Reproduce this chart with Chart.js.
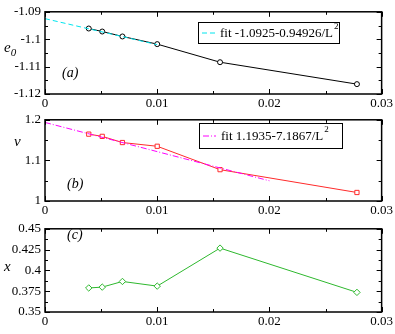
<!DOCTYPE html>
<html>
<head>
<meta charset="utf-8">
<script src="https://cdn.jsdelivr.net/npm/chart.js@4/dist/chart.umd.min.js"></script>
<style>
html, body { margin: 0; padding: 0; background: #fff; }
#wrap { position: relative; width: 395px; height: 334px; overflow: hidden; }
canvas { position: absolute; left: 0; }
</style>
</head>
<body>
<div id="wrap">
  <canvas id="chartA" width="395" height="112" style="top:0px"></canvas>
  <canvas id="chartB" width="395" height="112" style="top:108px"></canvas>
  <canvas id="chartC" width="395" height="117" style="top:217px"></canvas>
</div>
<script>
// data: x = 1/L^2 for L = 16, 14, 12, 10, 8, 6
const invL2 = [0.0039, 0.0051, 0.0069, 0.01, 0.0156, 0.0278];
const e0Vals = [-1.0961, -1.0972, -1.0990, -1.1018, -1.1084, -1.1164];
const nuVals = [1.1647, 1.1592, 1.1440, 1.1348, 1.0772, 1.0210];
const xVals = [0.3789, 0.3799, 0.3867, 0.3811, 0.4268, 0.3736];

// fit lines (end points)
const fitE0X = [0, 0.01];
const fitE0Y = [-1.0925, -1.1020];
const fitNuX = [0, 0.02];
const fitNuY = [1.1935, 1.0498];

const fitE0Label = 'fit -1.0925-0.94926/L';
const fitNuLabel = 'fit 1.1935-7.1867/L';

const xTicks = [0, 0.01, 0.02, 0.03];
const e0Range = [-1.12, -1.09];
const nuRange = [1, 1.2];
const xRange = [0.35, 0.45];

const SERIF = '"Liberation Serif", "DejaVu Serif", serif';

function pts(xs, ys) {
    return xs.map((x, i) => ({ x: x, y: ys[i] }));
}

function fmt(v) {
    return String(+(+v).toFixed(4));
}

// frame + inward ticks on all sides, legend and labels
const decoPlugin = {
    id: 'deco',
    afterDatasetsDraw(chart, args, o) {
        const ctx = chart.ctx;
        const a = chart.chartArea;
        const xs = chart.scales.x, ys = chart.scales.y;
        ctx.save();
        ctx.strokeStyle = '#000';
        ctx.lineWidth = 1;

        const nx = Math.round((xs.max - xs.min) / o.minorX);
        for (let i = 0; i <= nx; i++) {
            const px = Math.round(xs.getPixelForValue(xs.min + i * o.minorX)) + 0.5;
            const len = i % 2 === 0 ? 5 : 3;
            ctx.beginPath();
            ctx.moveTo(px, a.bottom); ctx.lineTo(px, a.bottom - len);
            ctx.moveTo(px, a.top); ctx.lineTo(px, a.top + len);
            ctx.stroke();
        }
        const ny = Math.round((ys.max - ys.min) / o.minorY);
        for (let i = 0; i <= ny; i++) {
            const py = Math.round(ys.getPixelForValue(ys.min + i * o.minorY)) + 0.5;
            const len = i % 2 === 0 ? 5 : 3;
            ctx.beginPath();
            ctx.moveTo(a.left, py); ctx.lineTo(a.left + len, py);
            ctx.moveTo(a.right, py); ctx.lineTo(a.right - len, py);
            ctx.stroke();
        }

        ctx.lineWidth = 1.5;
        ctx.strokeRect(a.left, a.top, a.right - a.left, a.bottom - a.top);

        // panel tag
        ctx.fillStyle = '#000';
        ctx.font = 'italic 14px ' + SERIF;
        ctx.textBaseline = 'middle';
        ctx.textAlign = 'left';
        ctx.fillText(o.tag, o.tagX, o.tagY);

        // y title
        ctx.font = 'italic 15px ' + SERIF;
        ctx.fillText(o.yTitle, o.yTitleX, o.yTitleY);
        if (o.ySub) {
            const w = ctx.measureText(o.yTitle).width;
            ctx.font = 'italic 11px ' + SERIF;
            ctx.fillText(o.ySub, o.yTitleX + w, o.yTitleY + 5);
        }

        // x title
        if (o.xTitle) {
            ctx.font = 'italic 14px ' + SERIF;
            ctx.fillText(o.xTitle, o.xTitleX, o.xTitleY);
            const w = ctx.measureText(o.xTitle).width;
            ctx.font = 'italic 10px ' + SERIF;
            ctx.fillText('2', o.xTitleX + w + 1, o.xTitleY - 7);
        }

        // legend box
        if (o.legend) {
            const L = o.legend;
            const ds = chart.data.datasets[L.dataset];
            ctx.fillStyle = '#fff';
            ctx.fillRect(L.x, L.y, L.w, L.h);
            ctx.lineWidth = 1;
            ctx.strokeStyle = '#000';
            ctx.strokeRect(L.x + 0.5, L.y + 0.5, L.w, L.h);
            const cy = L.y + L.h / 2 + 0.5;
            ctx.strokeStyle = ds.borderColor;
            ctx.setLineDash(ds.borderDash);
            ctx.beginPath();
            ctx.moveTo(L.x + 4, cy); ctx.lineTo(L.x + 17, cy);
            ctx.stroke();
            ctx.setLineDash([]);
            ctx.fillStyle = '#000';
            ctx.font = '13px ' + SERIF;
            ctx.fillText(ds.label, L.x + 22, cy + 1);
            const w = ctx.measureText(ds.label).width;
            ctx.font = '9px ' + SERIF;
            ctx.fillText('2', L.x + 22 + w + 1, cy - 6);
        }
        ctx.restore();
    }
};

function makePanel(id, cfg) {
    const ctx = document.getElementById(id).getContext('2d');
    return new Chart(ctx, {
        type: 'scatter',
        data: { datasets: cfg.datasets },
        options: {
            responsive: false,
            animation: false,
            devicePixelRatio: 1,
            layout: { padding: { top: 6, right: 11, left: 0, bottom: 0 } },
            plugins: {
                legend: { display: false },
                tooltip: { enabled: false },
                deco: cfg.deco
            },
            scales: {
                x: {
                    type: 'linear',
                    min: 0, max: 0.03,
                    afterBuildTicks: s => { s.ticks = xTicks.map(v => ({ value: v })); },
                    afterFit: s => { s.height = cfg.xHeight; },
                    grid: { display: false, drawTicks: false },
                    border: { display: false },
                    ticks: {
                        padding: 2,
                        maxRotation: 0,
                        autoSkip: false,
                        color: '#000',
                        font: { family: SERIF, size: 13 },
                        callback: fmt
                    }
                },
                y: {
                    type: 'linear',
                    min: cfg.yRange[0], max: cfg.yRange[1],
                    afterBuildTicks: s => { s.ticks = cfg.yTicks.map(v => ({ value: v })); },
                    afterFit: s => { s.width = 45; },
                    grid: { display: false, drawTicks: false },
                    border: { display: false },
                    ticks: {
                        padding: 4,
                        autoSkip: false,
                        color: '#000',
                        font: { family: SERIF, size: 13 },
                        callback: fmt
                    }
                }
            }
        },
        plugins: [decoPlugin]
    });
}

makePanel('chartA', {
    yRange: e0Range,
    yTicks: [-1.12, -1.11, -1.1, -1.09],
    xHeight: 18,
    datasets: [
        {
            label: fitE0Label,
            data: pts(fitE0X, fitE0Y),
            showLine: true,
            borderColor: '#00e5ee',
            borderWidth: 1,
            borderDash: [5, 3],
            pointRadius: 0
        },
        {
            label: 'e0',
            data: pts(invL2, e0Vals),
            showLine: true,
            borderColor: '#000',
            borderWidth: 1,
            pointStyle: 'circle',
            pointRadius: 2.5,
            pointBorderWidth: 1,
            pointBorderColor: '#000',
            pointBackgroundColor: '#fff'
        }
    ],
    deco: {
        minorX: 0.005, minorY: 0.005,
        tag: '(a)', tagX: 62, tagY: 73,
        yTitle: 'e', ySub: '0', yTitleX: 4, yTitleY: 48,
        legend: { dataset: 0, x: 198, y: 22, w: 141, h: 21 }
    }
});

makePanel('chartB', {
    yRange: nuRange,
    yTicks: [1, 1.1, 1.2],
    xHeight: 19,
    datasets: [
        {
            label: fitNuLabel,
            data: pts(fitNuX, fitNuY),
            showLine: true,
            borderColor: '#ff00ff',
            borderWidth: 1,
            borderDash: [6, 2, 1, 2],
            pointRadius: 0
        },
        {
            label: 'nu',
            data: pts(invL2, nuVals),
            showLine: true,
            borderColor: '#ff2a2a',
            borderWidth: 1,
            pointStyle: 'rect',
            pointRadius: 3,
            pointBorderWidth: 1,
            pointBorderColor: '#ff2a2a',
            pointBackgroundColor: '#fff'
        }
    ],
    deco: {
        minorX: 0.005, minorY: 0.05,
        tag: '(b)', tagX: 67, tagY: 76,
        yTitle: 'v', yTitleX: 14, yTitleY: 34,
        legend: { dataset: 0, x: 199, y: 15, w: 143, h: 25 }
    }
});

makePanel('chartC', {
    yRange: xRange,
    yTicks: [0.35, 0.375, 0.4, 0.425, 0.45],
    xHeight: 22,
    datasets: [
        {
            label: 'x',
            data: pts(invL2, xVals),
            showLine: true,
            borderColor: '#2eb82e',
            borderWidth: 1,
            pointStyle: 'rectRot',
            pointRadius: 3.2,
            pointBorderWidth: 1,
            pointBorderColor: '#2eb82e',
            pointBackgroundColor: '#fff'
        }
    ],
    deco: {
        minorX: 0.005, minorY: 0.0125,
        tag: '(c)', tagX: 67, tagY: 18,
        yTitle: 'x', yTitleX: 4, yTitleY: 50,
        xTitleX: 205, xTitleY: 109
    }
});
</script>
</body>
</html>
